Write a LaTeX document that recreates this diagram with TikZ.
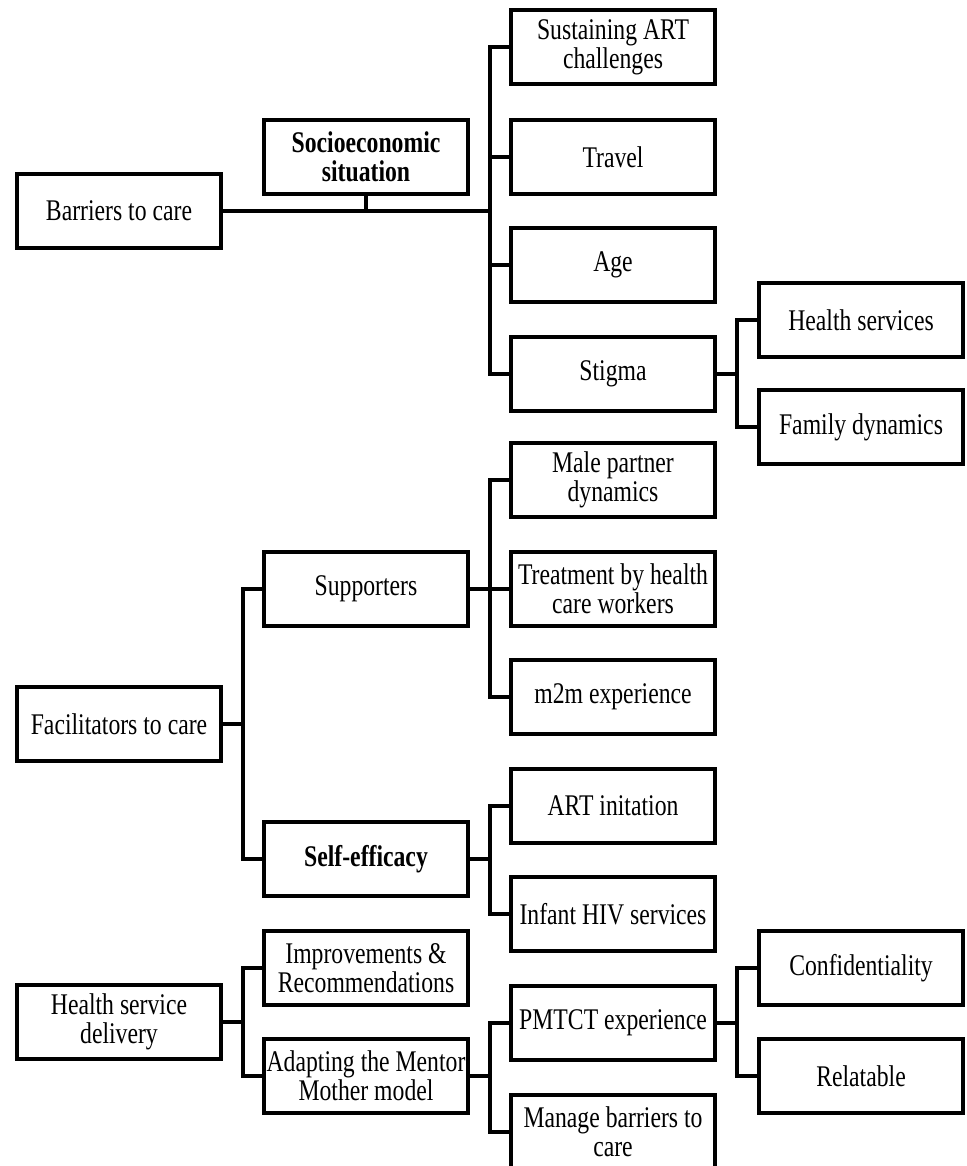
\documentclass[tikz,border=0pt]{standalone}
\usepackage{fontspec}
\setmainfont[FakeStretch=0.79]{Liberation Serif}
\usetikzlibrary{positioning}

\begin{document}
\begin{tikzpicture}[x=0.5pt, y=-0.5pt, box/.style={draw, line width=2pt, minimum width=102pt, minimum height=37pt, align=center, inner sep=1pt, font=\fontsize{15}{14.5}\selectfont}, link/.style={line width=2pt}]
\useasboundingbox (0,0) rectangle (967,1166); \clip (0,0) rectangle (967,1166);
\coordinate (c1) at (243,0); \coordinate (c2) at (490,0); \coordinate (c3) at (737,0);
% barriers
\node[box] (bar) at (119,211) {Barriers to care};
\node[box] (soc) at (366,157) {\textbf{Socioeconomic}\\\textbf{situation}};
\node[box] (sus) at (613,47) {Sustaining ART\\challenges};
\node[box] (tra) at (613,157) {Travel};
\node[box] (age) at (613,265) {Age};
\node[box] (sti) at (613,374) {Stigma};
\node[box] (hs) at (861,320) {Health services};
\node[box] (fam) at (861,427) {Family dynamics};
% facilitators
\node[box] (fac) at (119,724) {Facilitators to care};
\node[box] (sup) at (366,589) {Supporters};
\node[box] (sel) at (366,859) {\textbf{Self-efficacy}};
\node[box] (mal) at (613,480) {Male partner\\dynamics};
\node[box] (tre) at (613,589) {Treatment by health\\care workers};
\node[box] (m2m) at (613,697) {m2m experience};
\node[box] (art) at (613,806) {ART initation};
\node[box] (inf) at (613,914) {Infant HIV services};
% health service delivery
\node[box] (hsd) at (119,1022) {Health service\\delivery};
\node[box] (imp) at (366,968) {Improvements \&\\Recommendations};
\node[box] (ada) at (366,1076) {Adapting the Mentor\\Mother model};
\node[box] (pmt) at (613,1023) {PMTCT experience};
\node[box] (man) at (613,1132) {Manage barriers to\\care};
\node[box] (con) at (861,968) {Confidentiality};
\node[box] (rel) at (861,1076) {Relatable};
% connectors
\draw[link] (bar.east) -- (bar.east -| c2) coordinate (jb);
\draw[link] (soc.south) -- (soc.south |- jb);
\foreach \n in {sus,tra,age,sti} \draw[link] (jb) |- (\n.west);
\draw[link] (sti.east) -- (sti.east -| c3) coordinate (js);
\foreach \n in {hs,fam} \draw[link] (js) |- (\n.west);
\draw[link] (fac.east) -- (fac.east -| c1) coordinate (jf);
\foreach \n in {sup,sel} \draw[link] (jf) |- (\n.west);
\draw[link] (sup.east) -- (sup.east -| c2) coordinate (jsu);
\foreach \n in {mal,tre,m2m} \draw[link] (jsu) |- (\n.west);
\draw[link] (sel.east) -- (sel.east -| c2) coordinate (jse);
\foreach \n in {art,inf} \draw[link] (jse) |- (\n.west);
\draw[link] (hsd.east) -- (hsd.east -| c1) coordinate (jh);
\foreach \n in {imp,ada} \draw[link] (jh) |- (\n.west);
\draw[link] (ada.east) -- (ada.east -| c2) coordinate (ja);
\foreach \n in {pmt,man} \draw[link] (ja) |- (\n.west);
\draw[link] (pmt.east) -- (pmt.east -| c3) coordinate (jp);
\foreach \n in {con,rel} \draw[link] (jp) |- (\n.west);
\end{tikzpicture}
\end{document}
